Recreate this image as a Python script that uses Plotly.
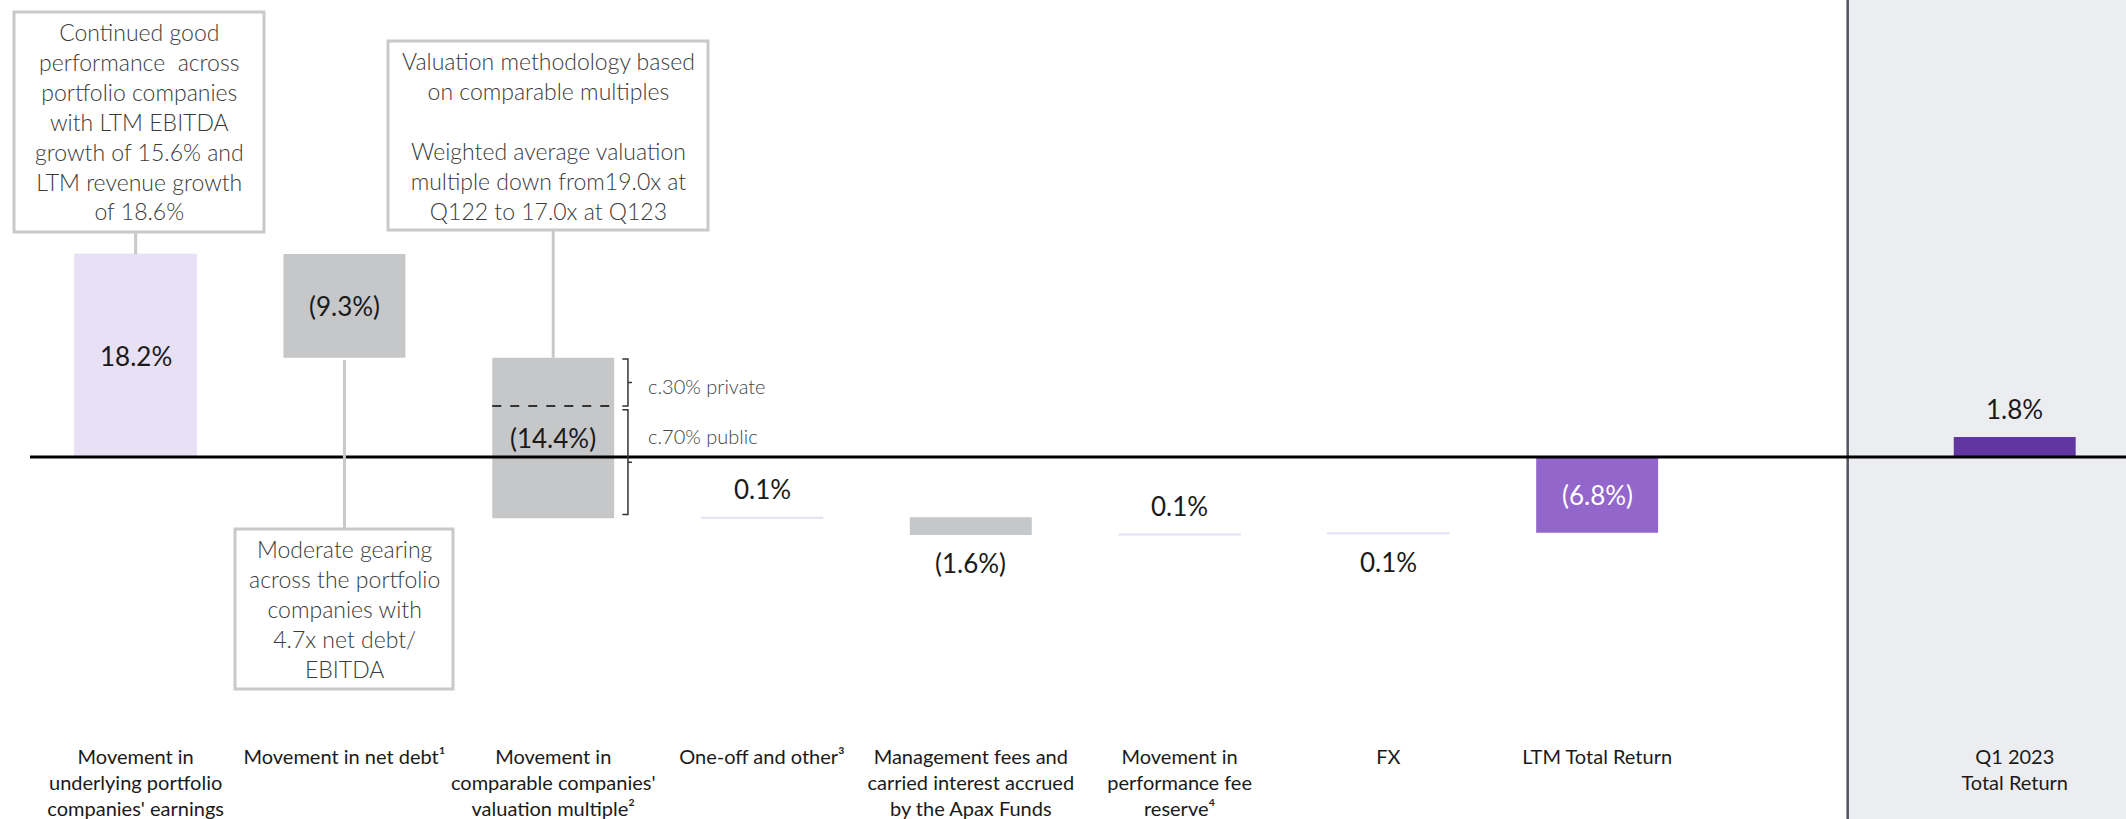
import plotly.graph_objects as go

# ---------------- data ----------------
categories = [
    "Movement in<br>underlying portfolio<br>companies' earnings",
    "Movement in net debt¹",
    "Movement in<br>comparable companies'<br>valuation multiple²",
    "One-off and other³",
    "Management fees and<br>carried interest accrued<br>by the Apax Funds",
    "Movement in<br>performance fee<br>reserve⁴",
    "FX",
    "LTM Total Return",
]
values = [18.2, -9.3, -14.4, 0.1, -1.6, 0.1, 0.1, -6.8]
measures = ["relative", "relative", "relative", "relative", "relative", "relative", "relative", "total"]
value_labels = ["18.2%", "(9.3%)", "(14.4%)", "0.1%", "(1.6%)", "0.1%", "0.1%", "(6.8%)"]

q1_category = "Q1 2023<br>Total Return"
q1_value = 1.8
q1_label = "1.8%"

private_share = 0.30
split_labels = ["c.30% private", "c.70% public"]

callout_texts = [
    "Continued good<br>performance  across<br>portfolio companies<br>with LTM EBITDA<br>growth of 15.6% and<br>LTM revenue growth<br>of 18.6%",
    "Valuation methodology based<br>on comparable multiples<br> <br>Weighted average valuation<br>multiple down from19.0x at<br>Q122 to 17.0x at Q123",
    "Moderate gearing<br>across the portfolio<br>companies with<br>4.7x net debt/<br>EBITDA",
]

# ---------------- style / layout ----------------
W, H = 2126, 819
ML, MR, MT, MB = 30, 0, 0, 76
PW, PH = W - ML - MR, H - MT - MB
BASE_PX = 457.0      # pixel row of the zero line
K = 11.15            # pixels per percentage point
X_RANGE = [-0.506, 9.533]
Y_RANGE = [-(H - MB - BASE_PX) / K, (BASE_PX - MT) / K]
BAR_W = 0.584

LAV = "#E8E0F4"
GREY = "#C6C7C9"
PURPLE = "#9366CC"
DARK = "#6236A0"
PANEL = "#ECEDF0"
DIVIDER = "#50545E"
BOX_LINE = "#C9C9C9"
TXT = "#1A1A1A"
FONT = "Lato"
LIGHT_FONT = "Lato Light, Lato"

positions = list(range(len(categories)))
q1_pos = 9
divider_x = 8.2


def xp(px):
    return (px - ML) / PW


def yp(py):
    return (H - MB - py) / PH


def ydata(py):
    return Y_RANGE[0] + (H - MB - py) / PH * (Y_RANGE[1] - Y_RANGE[0])


# compute bar extents of the waterfall
lows, highs = [], []
run = 0.0
for v, m in zip(values, measures):
    if m == "total":
        lo, hi = min(0, v), max(0, v)
    else:
        lo, hi = min(run, run + v), max(run, run + v)
        run += v
    lows.append(lo)
    highs.append(hi)

fig = go.Figure()
fig.add_trace(go.Waterfall(
    x=positions, y=values, measure=measures, width=[BAR_W] * len(values),
    increasing=dict(marker=dict(color=LAV, line=dict(color=LAV, width=1))),
    decreasing=dict(marker=dict(color=GREY, line=dict(width=0))),
    totals=dict(marker=dict(color=PURPLE, line=dict(width=0))),
    connector=dict(visible=False), textinfo="none", hoverinfo="skip",
))
fig.add_trace(go.Bar(
    x=[q1_pos], y=[q1_value], width=BAR_W, marker=dict(color=DARK, line=dict(width=0)),
    hoverinfo="skip",
))

shapes = []
annotations = []

# grey panel + divider (full height)
shapes.append(dict(type="rect", xref="x", yref="paper", x0=divider_x, x1=X_RANGE[1] + 1,
                   y0=-0.2, y1=1.05, fillcolor=PANEL, line=dict(width=0), layer="below"))
shapes.append(dict(type="line", xref="x", yref="paper", x0=divider_x, x1=divider_x,
                   y0=-0.2, y1=1.05, line=dict(color=DIVIDER, width=2.5), layer="above"))
# baseline
shapes.append(dict(type="line", xref="paper", yref="y", x0=0, x1=1, y0=0, y1=0,
                   line=dict(color="#000000", width=3), layer="above"))

# value labels
VAL_SIZE = 26
label_pos = ["inside", "inside", "inside", "above", "below", "above", "below", "inside"]
for i, (lab, lo, hi, pos) in enumerate(zip(value_labels, lows, highs, label_pos)):
    color = "#FFFFFF" if measures[i] == "total" else TXT
    f = dict(family=FONT, size=VAL_SIZE, color=color)
    if pos == "inside":
        annotations.append(dict(x=i, y=(lo + hi) / 2, xref="x", yref="y", text=lab, showarrow=False,
                                font=f, yanchor="middle"))
    elif pos == "above":
        annotations.append(dict(x=i, y=hi, xref="x", yref="y", text=lab, showarrow=False,
                                font=f, yanchor="bottom", yshift=10))
    else:
        annotations.append(dict(x=i, y=lo, xref="x", yref="y", text=lab, showarrow=False,
                                font=f, yanchor="top", yshift=-10))
annotations.append(dict(x=q1_pos, y=q1_value, xref="x", yref="y", text=q1_label, showarrow=False,
                        font=dict(family=FONT, size=VAL_SIZE, color=TXT), yanchor="bottom", yshift=10))

# split of the valuation multiple bar
i3 = 2
split_y = highs[i3] - private_share * (highs[i3] - lows[i3])
shapes.append(dict(type="line", xref="x", yref="y", x0=i3 - BAR_W / 2, x1=i3 + BAR_W / 2,
                   y0=split_y, y1=split_y, line=dict(color="#333333", width=2, dash="dash")))
bx, tl, tr = i3 + 0.358, i3 + 0.331, i3 + 0.377
up_top, up_bot = highs[i3] - 0.1, split_y
lo_top, lo_bot = split_y - 0.35, lows[i3] + 0.35
for a, b in [(up_top, up_bot), (lo_top, lo_bot)]:
    mid = (a + b) / 2
    shapes.append(dict(type="path", xref="x", yref="y",
                       path=f"M {tl},{a} L {bx},{a} L {bx},{b} L {tl},{b} M {bx},{mid} L {tr},{mid}",
                       line=dict(color="#333333", width=1.5)))
annotations.append(dict(x=i3 + 0.443, y=split_y, xref="x", yref="y", text=split_labels[0], showarrow=False,
                        xanchor="left", yanchor="middle", yshift=20,
                        font=dict(family=LIGHT_FONT, size=20, color="#444444", weight=300)))
annotations.append(dict(x=i3 + 0.443, y=split_y, xref="x", yref="y", text=split_labels[1], showarrow=False,
                        xanchor="left", yanchor="middle", yshift=-30,
                        font=dict(family=LIGHT_FONT, size=20, color="#444444", weight=300)))

# callout boxes (pixel geometry)
boxes = [
    dict(x0=14, x1=264, y0=12, y1=232, bar=0, side="top"),
    dict(x0=388, x1=708, y0=41, y1=230, bar=2, side="top"),
    dict(x0=235, x1=453, y0=529, y1=689, bar=1, side="bottom"),
]
for b, txt in zip(boxes, callout_texts):
    shapes.append(dict(type="rect", xref="paper", yref="paper", x0=xp(b["x0"]), x1=xp(b["x1"]),
                       y0=yp(b["y1"]), y1=yp(b["y0"]), line=dict(color=BOX_LINE, width=3),
                       fillcolor="rgba(0,0,0,0)"))
    annotations.append(dict(x=xp((b["x0"] + b["x1"]) / 2), y=yp((b["y0"] + b["y1"]) / 2),
                            xref="paper", yref="paper", text=txt, showarrow=False,
                            xanchor="center", yanchor="middle", align="center",
                            font=dict(family=LIGHT_FONT, size=23, color="#3A3A3A", weight=300)))
    i = b["bar"]
    if b["side"] == "top":
        shapes.append(dict(type="line", xref="x", yref="y", x0=i, x1=i,
                           y0=ydata(b["y1"]), y1=highs[i], line=dict(color=BOX_LINE, width=3)))
    else:
        shapes.append(dict(type="line", xref="x", yref="y", x0=i, x1=i,
                           y0=lows[i] - 0.2, y1=ydata(b["y0"]), line=dict(color=BOX_LINE, width=3)))

fig.update_layout(
    width=W, height=H,
    margin=dict(l=ML, r=MR, t=MT, b=MB),
    paper_bgcolor="white", plot_bgcolor="white",
    showlegend=False, barmode="overlay",
    xaxis=dict(range=X_RANGE, tickvals=positions + [q1_pos], ticktext=categories + [q1_category],
               showgrid=False, zeroline=False, showline=False, ticks="",
               tickfont=dict(family=FONT, size=20, color=TXT), tickangle=0),
    yaxis=dict(range=Y_RANGE, visible=False, showgrid=False, zeroline=False),
    shapes=shapes, annotations=annotations,
)

fig.write_html("out.html", config={"displayModeBar": False},
               post_script="document.body.style.margin='0px';")
